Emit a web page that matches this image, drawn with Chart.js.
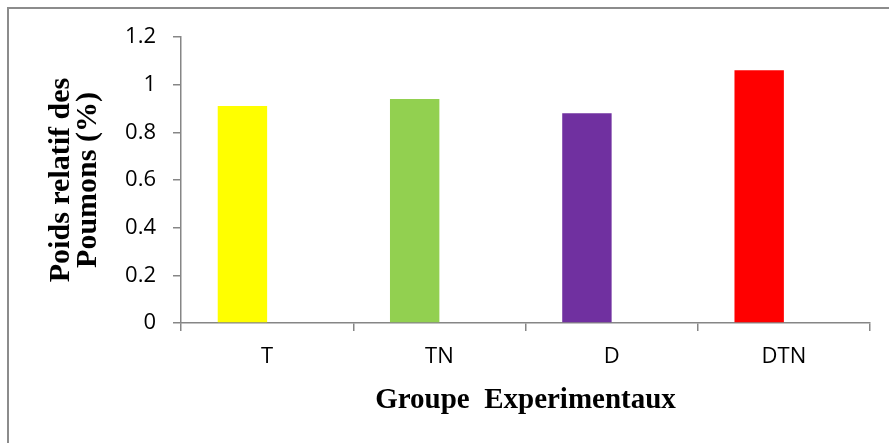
<!DOCTYPE html>
<html>
<head>
<meta charset="utf-8">
<script src="https://cdn.jsdelivr.net/npm/chart.js@4.4.1/dist/chart.umd.min.js"></script>
<style>
  html, body { margin: 0; padding: 0; background: #fff; }
  #wrap { position: relative; width: 889px; height: 443px; overflow: hidden; }
  #frame { position: absolute; left: 7px; top: 7px; width: 1000px; height: 1000px;
           border-left: 2px solid #8c8c8c; border-top: 2px solid #8c8c8c; box-sizing: border-box; }
  canvas { position: absolute; left: 0; top: 0; }
</style>
</head>
<body>
<div id="wrap">
  <div id="frame"></div>
  <canvas id="c" width="889" height="443"></canvas>
</div>
<script>
// Groups and relative lung weight (%)
const groups = ['T', 'TN', 'D', 'DTN'];
const poidsRelatif = [0.91, 0.94, 0.88, 1.06];
const barColors = ['#FFFF00', '#92D050', '#7030A0', '#FF0000'];
// second series of the workbook, left empty
const serieVide = [null, null, null, null];
const yTicks = [0, 0.2, 0.4, 0.6, 0.8, 1, 1.2];

const axisGray = '#868686';
const tickFont = { family: "'Open Sans', sans-serif", size: 22 };
const titleFamily = "'Liberation Serif', 'Times New Roman', serif";

new Chart(document.getElementById('c'), {
  type: 'bar',
  data: {
    labels: groups,
    datasets: [
      { label: 'Poids relatif', data: poidsRelatif, backgroundColor: barColors,
        barPercentage: 1, categoryPercentage: 0.5736 },
      { label: 'Série 2', data: serieVide, backgroundColor: '#ffffff',
        barPercentage: 1, categoryPercentage: 0.5736 }
    ]
  },
  options: {
    responsive: false,
    animation: false,
    devicePixelRatio: 1,
    layout: { padding: { left: 0, right: 19, top: 37, bottom: 0 } },
    plugins: { legend: { display: false }, tooltip: { enabled: false } },
    scales: {
      x: {
        offset: true,
        grid: { offset: true, drawOnChartArea: false, drawTicks: true, tickLength: 8, color: axisGray, lineWidth: 1.5 },
        border: { display: true, color: axisGray, width: 1.5 },
        ticks: { color: '#000', font: tickFont, padding: 13 },
        title: { display: true, text: 'Groupe  Experimentaux', color: '#000',
                 font: { family: titleFamily, size: 29, weight: 'bold', lineHeight: 1.2 },
                 padding: { top: 0, bottom: 25 } },
        afterFit: (s) => { s.height = 120; }
      },
      y: {
        min: 0, max: 1.2,
        afterBuildTicks: (s) => { s.ticks = yTicks.map(v => ({ value: v })); },
        grid: { drawOnChartArea: false, drawTicks: true, tickLength: 8, color: axisGray, lineWidth: 1.5 },
        border: { display: true, color: axisGray, width: 1.5 },
        ticks: { color: '#000', font: tickFont, padding: 17,
                 callback: (v) => String(+Number(v).toFixed(1)) },
        title: { display: true, text: ['Poids relatif des', 'Poumons (%)'], color: '#000',
                 font: { family: titleFamily, size: 30, weight: 'bold', lineHeight: 0.9 },
                 padding: { top: 48, bottom: 0 } },
        afterFit: (s) => { s.width = 181; }
      }
    }
  }
});
</script>
</body>
</html>
